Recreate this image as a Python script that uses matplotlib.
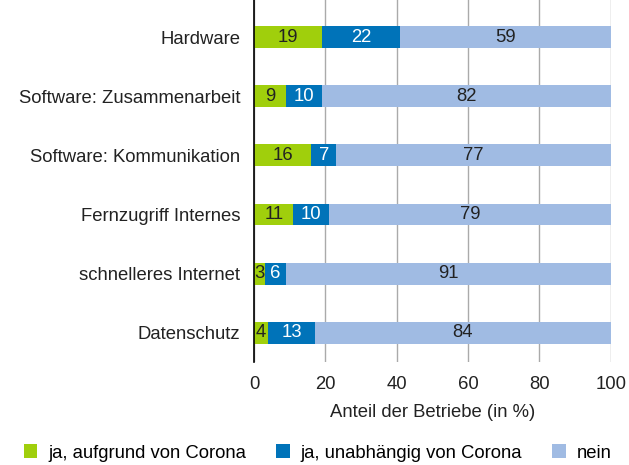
import numpy as np
import matplotlib.pyplot as plt

plt.rcParams['font.family'] = ['Liberation Sans', 'DejaVu Sans']

# Data
categories = ['Hardware', 'Software: Zusammenarbeit', 'Software: Kommunikation',
              'Fernzugriff Internes', 'schnelleres Internet', 'Datenschutz']
ja_corona = [19, 9, 16, 11, 3, 4]
ja_unabh = [22, 10, 7, 10, 6, 13]
nein = [59, 82, 77, 79, 91, 84]
series_names = ['ja, aufgrund von Corona', 'ja, unabhängig von Corona', 'nein']
colors = ['#a0cf0c', '#0073b9', '#a0bbe3']
text_colors = ['#222222', 'white', '#222222']
fs = 13.3

fig = plt.figure(figsize=(6.29, 4.65), dpi=100)
ax = fig.add_axes([0.404, 0.221, 0.567, 0.779])

y = np.arange(len(categories))
left = np.zeros(len(categories))
for vals, name, c, tc in zip([ja_corona, ja_unabh, nein], series_names, colors, text_colors):
    bars = ax.barh(y, vals, left=left, height=0.37, color=c, label=name, zorder=3)
    ax.bar_label(bars, labels=[str(v) for v in vals], label_type='center',
                 color=tc, fontsize=fs)
    left += np.array(vals)

ax.set_ylim(5.5, -0.63)
ax.set_xlim(0, 100)
ax.set_yticks(y)
ax.set_yticklabels(categories, fontsize=fs, color='#222222')
ax.set_xticks([0, 20, 40, 60, 80, 100])
ax.tick_params(axis='both', length=0, labelsize=fs, colors='#222222')
ax.tick_params(axis='x', pad=10)
ax.tick_params(axis='y', pad=10)
ax.grid(axis='x', color='#aaaaaa', linewidth=1, zorder=0)
for s in ['top', 'right', 'bottom']:
    ax.spines[s].set_visible(False)
ax.spines['left'].set_color('black')
ax.spines['left'].set_linewidth(1.2)
ax.spines['left'].set_zorder(4)
ax.set_xlabel('Anteil der Betriebe (in %)', fontsize=fs, color='#222222', labelpad=8)

leg = ax.legend(loc='center', ncol=3, frameon=False,
                fontsize=fs, handlelength=0.75, handleheight=0.75, columnspacing=1.6,
                handletextpad=0.6)
leg.set_bbox_to_anchor((0.505, 1 - 453 / 465), transform=fig.transFigure)

fig.savefig('out.png', dpi=100)
